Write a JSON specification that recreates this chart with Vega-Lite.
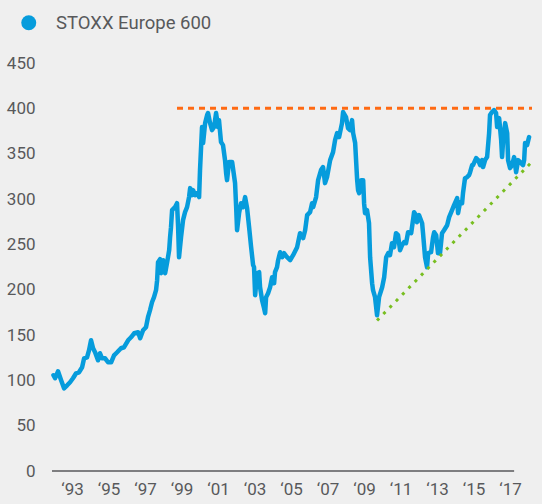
{
  "$schema": "https://vega.github.io/schema/vega-lite/v6.json",
  "width": 480,
  "height": 408,
  "autosize": {"type": "none"},
  "padding": {"left": 52, "top": 63, "right": 10, "bottom": 33},
  "background": "#efefef",
  "config": {
    "view": {"stroke": null},
    "font": "Roboto",
    "axis": {"labelFont": "Roboto", "labelFontSize": 17, "labelColor": "#58595b", "grid": false, "ticks": false, "domain": false, "title": null}
  },
  "datasets": {
    "stoxx": [
      {"year": 1991.98, "value": 105.6}, {"year": 1992.07, "value": 102.3}, {"year": 1992.23, "value": 110.0}, {"year": 1992.40, "value": 100.1},
      {"year": 1992.56, "value": 91.2}, {"year": 1992.73, "value": 94.5}, {"year": 1992.89, "value": 97.9}, {"year": 1993.05, "value": 102.3},
      {"year": 1993.22, "value": 107.8}, {"year": 1993.38, "value": 108.9}, {"year": 1993.55, "value": 114.4}, {"year": 1993.66, "value": 124.3},
      {"year": 1993.82, "value": 125.4}, {"year": 1993.93, "value": 133.2}, {"year": 1994.04, "value": 144.2}, {"year": 1994.15, "value": 135.4},
      {"year": 1994.26, "value": 131.0}, {"year": 1994.42, "value": 122.1}, {"year": 1994.53, "value": 129.9}, {"year": 1994.64, "value": 124.3},
      {"year": 1994.81, "value": 124.3}, {"year": 1994.97, "value": 119.9}, {"year": 1995.14, "value": 119.9}, {"year": 1995.30, "value": 127.6},
      {"year": 1995.47, "value": 131.0}, {"year": 1995.68, "value": 135.4}, {"year": 1995.85, "value": 136.5}, {"year": 1996.07, "value": 144.2},
      {"year": 1996.23, "value": 147.5}, {"year": 1996.40, "value": 151.9}, {"year": 1996.62, "value": 153.0}, {"year": 1996.73, "value": 146.4},
      {"year": 1996.89, "value": 155.2}, {"year": 1997.05, "value": 158.6}, {"year": 1997.16, "value": 169.6}, {"year": 1997.27, "value": 177.3},
      {"year": 1997.38, "value": 186.1}, {"year": 1997.49, "value": 191.7}, {"year": 1997.60, "value": 199.4}, {"year": 1997.66, "value": 210.4},
      {"year": 1997.71, "value": 230.3}, {"year": 1997.82, "value": 233.6}, {"year": 1997.88, "value": 218.2}, {"year": 1997.99, "value": 232.5},
      {"year": 1998.10, "value": 218.2}, {"year": 1998.21, "value": 230.3}, {"year": 1998.32, "value": 243.5}, {"year": 1998.37, "value": 257.9},
      {"year": 1998.42, "value": 268.9}, {"year": 1998.48, "value": 287.7}, {"year": 1998.64, "value": 291.0}, {"year": 1998.75, "value": 295.4},
      {"year": 1998.81, "value": 268.9}, {"year": 1998.86, "value": 235.8}, {"year": 1998.97, "value": 257.9}, {"year": 1999.08, "value": 276.7},
      {"year": 1999.19, "value": 285.5}, {"year": 1999.30, "value": 291.0}, {"year": 1999.41, "value": 302.1}, {"year": 1999.47, "value": 312.0},
      {"year": 1999.58, "value": 304.3}, {"year": 1999.63, "value": 309.8}, {"year": 1999.74, "value": 304.3}, {"year": 1999.85, "value": 306.5},
      {"year": 1999.96, "value": 302.1}, {"year": 2000.01, "value": 331.9}, {"year": 2000.12, "value": 379.3}, {"year": 2000.18, "value": 361.7},
      {"year": 2000.29, "value": 383.7}, {"year": 2000.40, "value": 392.6}, {"year": 2000.45, "value": 394.8}, {"year": 2000.56, "value": 383.7},
      {"year": 2000.67, "value": 376.0}, {"year": 2000.78, "value": 379.3}, {"year": 2000.89, "value": 394.8}, {"year": 2001.00, "value": 379.3},
      {"year": 2001.05, "value": 387.0}, {"year": 2001.16, "value": 362.8}, {"year": 2001.27, "value": 359.4}, {"year": 2001.38, "value": 342.9},
      {"year": 2001.44, "value": 328.5}, {"year": 2001.49, "value": 320.8}, {"year": 2001.60, "value": 340.7}, {"year": 2001.77, "value": 340.7},
      {"year": 2001.93, "value": 317.5}, {"year": 2001.99, "value": 291.0}, {"year": 2002.04, "value": 265.6}, {"year": 2002.15, "value": 284.4},
      {"year": 2002.26, "value": 295.4}, {"year": 2002.37, "value": 291.0}, {"year": 2002.48, "value": 302.1}, {"year": 2002.59, "value": 289.9},
      {"year": 2002.70, "value": 268.9}, {"year": 2002.81, "value": 246.9}, {"year": 2002.92, "value": 227.0}, {"year": 2002.97, "value": 224.8},
      {"year": 2003.03, "value": 193.9}, {"year": 2003.14, "value": 218.2}, {"year": 2003.25, "value": 219.3}, {"year": 2003.30, "value": 202.7},
      {"year": 2003.41, "value": 188.4}, {"year": 2003.52, "value": 179.5}, {"year": 2003.58, "value": 174.0}, {"year": 2003.63, "value": 191.7},
      {"year": 2003.74, "value": 196.1}, {"year": 2003.85, "value": 202.7}, {"year": 2003.96, "value": 213.7}, {"year": 2004.07, "value": 207.1},
      {"year": 2004.12, "value": 219.3}, {"year": 2004.23, "value": 224.8}, {"year": 2004.29, "value": 232.5}, {"year": 2004.40, "value": 241.3},
      {"year": 2004.51, "value": 235.8}, {"year": 2004.62, "value": 240.2}, {"year": 2004.78, "value": 235.8}, {"year": 2004.95, "value": 232.5},
      {"year": 2005.11, "value": 238.0}, {"year": 2005.33, "value": 246.9}, {"year": 2005.49, "value": 262.3}, {"year": 2005.66, "value": 256.8},
      {"year": 2005.77, "value": 265.6}, {"year": 2005.88, "value": 282.2}, {"year": 2006.04, "value": 285.5}, {"year": 2006.15, "value": 295.4},
      {"year": 2006.21, "value": 291.0}, {"year": 2006.37, "value": 302.1}, {"year": 2006.48, "value": 320.8}, {"year": 2006.64, "value": 331.9},
      {"year": 2006.75, "value": 335.2}, {"year": 2006.86, "value": 317.5}, {"year": 2006.97, "value": 324.1}, {"year": 2007.14, "value": 342.9},
      {"year": 2007.30, "value": 351.7}, {"year": 2007.41, "value": 365.0}, {"year": 2007.52, "value": 372.7}, {"year": 2007.63, "value": 368.3},
      {"year": 2007.79, "value": 383.7}, {"year": 2007.85, "value": 395.9}, {"year": 2008.01, "value": 390.4}, {"year": 2008.12, "value": 378.2},
      {"year": 2008.23, "value": 376.0}, {"year": 2008.34, "value": 387.0}, {"year": 2008.40, "value": 372.7}, {"year": 2008.51, "value": 361.7},
      {"year": 2008.62, "value": 320.8}, {"year": 2008.67, "value": 309.8}, {"year": 2008.73, "value": 306.5}, {"year": 2008.84, "value": 320.8},
      {"year": 2008.95, "value": 320.8}, {"year": 2009.00, "value": 295.4}, {"year": 2009.05, "value": 284.4}, {"year": 2009.16, "value": 287.7},
      {"year": 2009.27, "value": 273.3}, {"year": 2009.33, "value": 235.8}, {"year": 2009.44, "value": 207.1}, {"year": 2009.49, "value": 199.4},
      {"year": 2009.60, "value": 191.7}, {"year": 2009.71, "value": 171.8}, {"year": 2009.82, "value": 191.7}, {"year": 2009.99, "value": 202.7},
      {"year": 2010.10, "value": 213.7}, {"year": 2010.21, "value": 235.8}, {"year": 2010.32, "value": 240.2}, {"year": 2010.42, "value": 238.0},
      {"year": 2010.53, "value": 251.3}, {"year": 2010.64, "value": 246.9}, {"year": 2010.75, "value": 262.3}, {"year": 2010.86, "value": 260.1},
      {"year": 2010.97, "value": 243.5}, {"year": 2011.08, "value": 249.1}, {"year": 2011.19, "value": 252.4}, {"year": 2011.30, "value": 251.3},
      {"year": 2011.41, "value": 263.4}, {"year": 2011.58, "value": 262.3}, {"year": 2011.68, "value": 276.7}, {"year": 2011.74, "value": 285.5},
      {"year": 2011.85, "value": 282.2}, {"year": 2011.90, "value": 274.4}, {"year": 2012.01, "value": 282.2}, {"year": 2012.18, "value": 273.3},
      {"year": 2012.23, "value": 262.3}, {"year": 2012.34, "value": 235.8}, {"year": 2012.45, "value": 224.8}, {"year": 2012.51, "value": 240.2},
      {"year": 2012.67, "value": 241.3}, {"year": 2012.78, "value": 257.9}, {"year": 2012.84, "value": 263.4}, {"year": 2012.95, "value": 260.1},
      {"year": 2013.05, "value": 240.2}, {"year": 2013.16, "value": 240.2}, {"year": 2013.27, "value": 262.3}, {"year": 2013.38, "value": 265.6},
      {"year": 2013.55, "value": 271.1}, {"year": 2013.66, "value": 280.0}, {"year": 2013.82, "value": 287.7}, {"year": 2013.93, "value": 293.2},
      {"year": 2014.10, "value": 301.0}, {"year": 2014.15, "value": 284.4}, {"year": 2014.26, "value": 296.5}, {"year": 2014.37, "value": 295.4},
      {"year": 2014.42, "value": 306.5}, {"year": 2014.53, "value": 323.0}, {"year": 2014.64, "value": 324.1}, {"year": 2014.75, "value": 326.3},
      {"year": 2014.81, "value": 329.6}, {"year": 2014.92, "value": 337.4}, {"year": 2014.97, "value": 337.4}, {"year": 2015.14, "value": 345.1},
      {"year": 2015.25, "value": 342.9}, {"year": 2015.36, "value": 337.4}, {"year": 2015.47, "value": 342.9}, {"year": 2015.52, "value": 335.2},
      {"year": 2015.63, "value": 342.9}, {"year": 2015.74, "value": 346.2}, {"year": 2015.85, "value": 372.7}, {"year": 2015.90, "value": 392.6},
      {"year": 2016.01, "value": 395.9}, {"year": 2016.12, "value": 398.1}, {"year": 2016.23, "value": 394.8}, {"year": 2016.29, "value": 379.3},
      {"year": 2016.40, "value": 389.2}, {"year": 2016.51, "value": 365.0}, {"year": 2016.56, "value": 346.2}, {"year": 2016.62, "value": 365.0},
      {"year": 2016.73, "value": 383.7}, {"year": 2016.84, "value": 372.7}, {"year": 2016.89, "value": 342.9}, {"year": 2017.00, "value": 334.1},
      {"year": 2017.11, "value": 337.4}, {"year": 2017.22, "value": 346.2}, {"year": 2017.33, "value": 329.6}, {"year": 2017.44, "value": 342.9},
      {"year": 2017.55, "value": 340.7}, {"year": 2017.71, "value": 337.4}, {"year": 2017.77, "value": 342.9}, {"year": 2017.82, "value": 361.7},
      {"year": 2017.93, "value": 359.4}, {"year": 2018.04, "value": 368.3}
    ],
    "resistance": [{"x1": 1998.75, "x2": 2018.2, "y1": 400}],
    "support": [{"x1": 2009.71, "x2": 2018.1, "y1": 166, "y2": 339}],
    "baseline": [{"x1": 1991.9, "x2": 2017.22, "y1": 0}]
  },
  "layer": [
    {
      "data": {"name": "baseline"},
      "mark": {"type": "rule", "color": "#58595b", "strokeWidth": 1.5},
      "encoding": {
        "x": {"field": "x1", "type": "quantitative", "scale": {"domain": [1991.9, 2018.2], "nice": false, "zero": false},
          "axis": {"values": [1993, 1995, 1997, 1999, 2001, 2003, 2005, 2007, 2009, 2011, 2013, 2015, 2017], "tickCount": 30, "labelExpr": "'‘' + slice(toString(datum.value), 2)", "labelPadding": 10, "labelOverlap": false, "labelFlush": false, "labelBound": false}},
        "x2": {"field": "x2"},
        "y": {"field": "y1", "type": "quantitative", "scale": {"domain": [0, 450], "nice": false},
          "axis": {"values": [0, 50, 100, 150, 200, 250, 300, 350, 400, 450], "tickCount": 20, "labelPadding": 17, "labelOverlap": false}}
      }
    },
    {
      "data": {"name": "stoxx"},
      "mark": {"type": "line", "strokeWidth": 4.5, "strokeJoin": "round", "strokeCap": "round"},
      "encoding": {
        "x": {"field": "year", "type": "quantitative"},
        "y": {"field": "value", "type": "quantitative"},
        "color": {"datum": "STOXX Europe 600", "type": "nominal", "scale": {"range": ["#069cdc"]},
          "legend": {"orient": "none", "legendX": -32.5, "legendY": -49.5, "title": null, "symbolType": "circle", "symbolSize": 225, "symbolFillColor": "#069cdc", "symbolStrokeWidth": 0, "symbolOpacity": 1, "labelFont": "Roboto", "labelFontSize": 18.5, "labelColor": "#58595b", "labelOffset": 18, "padding": 0}}
      }
    },
    {
      "data": {"name": "resistance"},
      "mark": {"type": "rule", "color": "#ff6a13", "strokeWidth": 3, "strokeDash": [6, 5]},
      "encoding": {
        "x": {"field": "x1", "type": "quantitative"},
        "x2": {"field": "x2"},
        "y": {"field": "y1", "type": "quantitative"}
      }
    },
    {
      "data": {"name": "support"},
      "mark": {"type": "rule", "color": "#78be20", "strokeWidth": 3, "strokeDash": [3, 6]},
      "encoding": {
        "x": {"field": "x1", "type": "quantitative"},
        "x2": {"field": "x2"},
        "y": {"field": "y1", "type": "quantitative"},
        "y2": {"field": "y2"}
      }
    }
  ]
}
